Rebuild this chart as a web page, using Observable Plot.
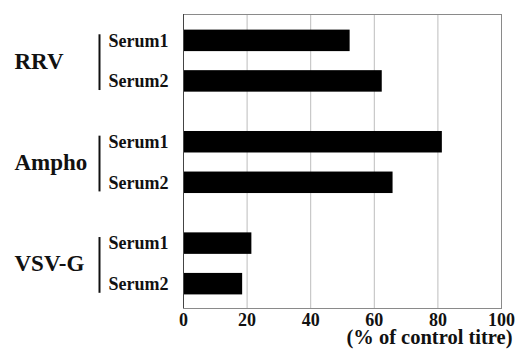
<!DOCTYPE html>
<html>
<head>
<meta charset="utf-8">
<script src="https://cdn.jsdelivr.net/npm/d3@7"></script>
<script src="https://cdn.jsdelivr.net/npm/@observablehq/plot@0.6"></script>
<style>
  html, body { margin: 0; padding: 0; background: #fff; }
  #chart svg, #chart svg text { font-family: "Liberation Serif", "Times New Roman", serif !important; font-weight: bold; }
  #chart svg [aria-label^="x-axis"] text { font-size: 18px !important; fill: #111; }
</style>
</head>
<body>
<div id="chart"></div>
<script>
// Data
const groups = ["RRV", "Ampho", "VSV-G"];
const sera = ["Serum1", "Serum2"];
const rrvValues = [52.4, 62.5];
const amphoValues = [81.4, 65.9];
const vsvgValues = [21.5, 18.6];
const xTicks = [0, 20, 40, 60, 80, 100];
const xLabel = "(% of control titre)";

const seriesByGroup = [rrvValues, amphoValues, vsvgValues];

// Layout in band units: two bars per group, wider gap between groups
const groupStep = 5, barStep = 2, halfBar = 0.53;
const rows = [];
groups.forEach((g, gi) => {
  sera.forEach((s, si) => {
    rows.push({group: g, serum: s, value: seriesByGroup[gi][si], pos: gi * groupStep + si * barStep});
  });
});
const groupRows = groups.map((g, gi) => ({group: g, pos: gi * groupStep}));

const font = "Liberation Serif";

const chart = Plot.plot({
  width: 525,
  height: 356,
  marginLeft: 183,
  marginRight: 24,
  marginTop: 14,
  marginBottom: 48,
  style: {fontFamily: font, fontSize: "18px", fontWeight: "bold", color: "#000", background: "#fff"},
  x: {domain: [0, 100], ticks: xTicks, tickSize: 0, tickPadding: 5, label: null, line: true},
  y: {domain: [-1.3, 13.2], reverse: true, axis: null},
  marks: [
    Plot.ruleX(xTicks.slice(1, -1), {stroke: "#bdbdbd", strokeWidth: 1}),
    Plot.frame({stroke: "#8a8a8a"}),
    Plot.rect(rows, {
      x1: () => 0,
      x2: "value",
      y1: d => d.pos - halfBar,
      y2: d => d.pos + halfBar,
      fill: "#000"
    }),
    Plot.ruleX([0], {stroke: "#444"}),
    Plot.text(rows, {
      y: "pos", text: "serum", frameAnchor: "left", textAnchor: "end",
      dx: -15, fontSize: 18, fontWeight: "bold", fontFamily: font, fill: "#111"
    }),
    Plot.text(groupRows, {
      y: d => d.pos + barStep / 2, text: "group", frameAnchor: "left", textAnchor: "start",
      dx: -169, fontSize: 23, fontWeight: "bold", fontFamily: font, fill: "#111"
    }),
    Plot.ruleX(groupRows, {
      x: () => 0,
      y1: d => d.pos - 0.3,
      y2: d => d.pos + barStep + 0.45,
      dx: -84, stroke: "#111", strokeWidth: 2
    }),
    Plot.text([xLabel], {
      frameAnchor: "bottom-right", textAnchor: "end", lineAnchor: "bottom", dx: 11, dy: 35,
      fontSize: 20.5, fontWeight: "bold", fontFamily: font, fill: "#111"
    })
  ]
});
document.getElementById("chart").appendChild(chart);
</script>
</body>
</html>
